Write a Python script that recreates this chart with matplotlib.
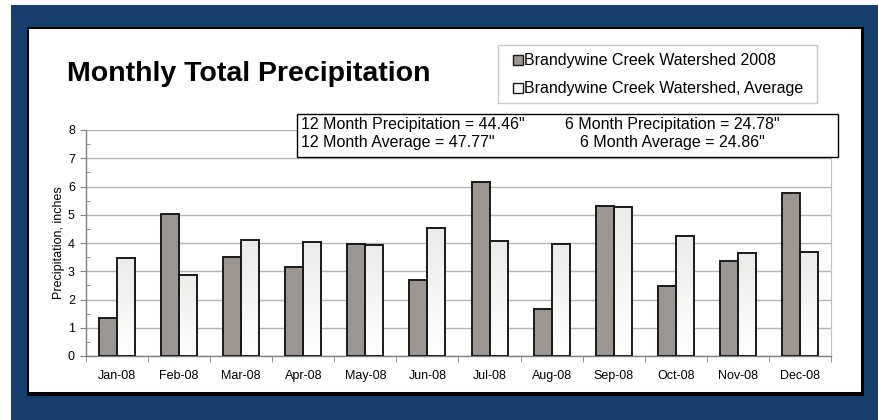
import numpy as np
import matplotlib
matplotlib.use("Agg")
import matplotlib.pyplot as plt
import matplotlib.patches as mpatches

plt.rcParams.update({
    "font.family": "Liberation Sans",
    "font.size": 9,
})

# ---- data ----
months = ["Jan-08", "Feb-08", "Mar-08", "Apr-08", "May-08", "Jun-08",
          "Jul-08", "Aug-08", "Sep-08", "Oct-08", "Nov-08", "Dec-08"]
precip_2008 = [1.33, 5.04, 3.52, 3.15, 3.96, 2.68,
               6.15, 1.68, 5.30, 2.49, 3.38, 5.78]
precip_avg = [3.47, 2.87, 4.09, 4.02, 3.93, 4.53,
              4.08, 3.95, 5.26, 4.24, 3.66, 3.67]
series_names = ["Brandywine Creek Watershed 2008",
                "Brandywine Creek Watershed, Average"]
stats_left = ['12 Month Precipitation = 44.46"', '12 Month Average = 47.77"']
stats_right = ['6 Month Precipitation = 24.78"', '6 Month Average = 24.86"']

W, H = 879, 420
fig = plt.figure(figsize=(W / 100, H / 100), dpi=100, facecolor="white")

def fx(px):
    return px / W

def fy(py):
    return 1 - py / H

def frect(x0, y0, x1, y1, **kw):
    # rectangle in pixel coords (top-left origin)
    r = mpatches.Rectangle((fx(x0), fy(y1)), fx(x1) - fx(x0), fy(y0) - fy(y1),
                           transform=fig.transFigure, **kw)
    fig.patches.append(r)
    return r

# blue frame, black border/shadow, white panel
frect(11, 5, W, H, facecolor="#163F6E", edgecolor="none", zorder=-20)
frect(27, 27, 864, 396, facecolor="black", edgecolor="none", zorder=-19)
frect(29, 29, 861, 392, facecolor="white", edgecolor="none", zorder=-18)

fig.text(fx(67), fy(81), "Monthly Total Precipitation", fontsize=20.5,
         fontweight="bold", ha="left", va="baseline")

# ---- axes ----
ax = fig.add_axes([fx(86), fy(356), fx(831) - fx(86), fy(130) - fy(356)])
ax.set_facecolor("none")

x = np.arange(len(months))
bw = 0.29
edge = "#1a1a1a"
c2008 = "#9b9691"
b1 = ax.bar(x - bw / 2, precip_2008, bw, color=c2008, edgecolor=edge,
            linewidth=1.4, zorder=3)
b2 = ax.bar(x + bw / 2, precip_avg, bw, color="white", edgecolor=edge,
            linewidth=1.4, zorder=3)

# vertical gradient (light grey top -> white bottom) inside average bars
grad = np.linspace(0, 1, 256).reshape(-1, 1)
cmap = matplotlib.colors.LinearSegmentedColormap.from_list(
    "g", ["#ebebea", "#ffffff"])
for bar in b2:
    x0, h = bar.get_x(), bar.get_height()
    im = ax.imshow(grad, extent=[x0, x0 + bw, 0, h], aspect="auto",
                   cmap=cmap, origin="upper", zorder=2.9)
    im.set_clip_path(bar)
    bar.set_facecolor("none")

ax.set_xlim(-0.5, len(months) - 0.5)
ax.set_ylim(0, 8)
ax.set_yticks(range(0, 9))
ax.set_yticks(np.arange(0.5, 8, 1.0), minor=True)
ax.set_xticks(x)
ax.set_xticklabels(months, fontsize=9)
ax.set_xticks(np.arange(-0.5, len(months), 1.0), minor=True)
ax.tick_params(axis="x", which="major", length=0, pad=10)
ax.tick_params(axis="x", which="minor", length=4, direction="out", color="#808080")
ax.tick_params(axis="y", which="major", length=4, direction="out", color="#808080",
               labelsize=9, pad=4)
ax.tick_params(axis="y", which="minor", length=3, direction="in", color="#808080")
ax.grid(axis="y", which="major", color="#b4b4b4", linewidth=1.0, zorder=1)
ax.set_axisbelow(True)
for s in ["left", "bottom"]:
    ax.spines[s].set_color("#808080")
    ax.spines[s].set_linewidth(1.0)
ax.spines["top"].set_visible(False)
ax.spines["right"].set_color("#c0c0c0")
ax.set_ylabel("Precipitation, inches", fontsize=9, labelpad=2)

# ---- legend (drawn by hand to match the small square keys) ----
frect(498, 45, 817, 103, facecolor="white", edgecolor="#c8c8c8",
      linewidth=1.0, zorder=4)
for i, (name, fc) in enumerate(zip(series_names, [c2008, "white"])):
    yc = 60 + 28 * i
    frect(513, yc - 5, 523, yc + 5, facecolor=fc, edgecolor=edge,
          linewidth=1.0, zorder=5)
    fig.text(fx(524), fy(yc), name, fontsize=11.5, ha="left", va="center",
             zorder=6)

# ---- stats box ----
frect(297, 114, 838, 157, facecolor="white", edgecolor="black",
      linewidth=1.0, zorder=4)
for i, (l, r) in enumerate(zip(stats_left, stats_right)):
    yy = fy(124 + 18 * i)
    fig.text(fx(301), yy, l, fontsize=11.5, ha="left", va="center", zorder=6)
    fig.text(fx(672), yy, r, fontsize=11.5, ha="center", va="center", zorder=6)

fig.savefig("out.png", dpi=100, facecolor="white")
